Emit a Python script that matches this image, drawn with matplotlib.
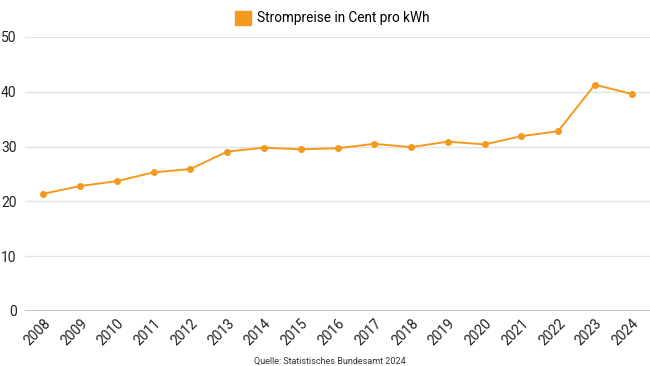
import matplotlib.pyplot as plt
from matplotlib.patches import Patch

# Strompreise Deutschland, Cent pro kWh
years = ['2008', '2009', '2010', '2011', '2012', '2013', '2014', '2015', '2016',
         '2017', '2018', '2019', '2020', '2021', '2022', '2023', '2024']
prices = [21.4, 22.8, 23.7, 25.3, 25.9, 29.1, 29.8, 29.5, 29.7,
          30.5, 29.9, 30.9, 30.4, 31.9, 32.8, 41.3, 39.6]
y_ticks = [0, 10, 20, 30, 40, 50]

orange = '#F39A1E'

plt.rcParams['font.family'] = ['Roboto', 'DejaVu Sans']

fig = plt.figure(figsize=(6.5, 3.66), dpi=100)
ax = fig.add_axes([25 / 650, 55 / 366, 1 - 25 / 650, 274 / 366])

x = list(range(len(years)))
ax.plot(x, prices, color=orange, linewidth=1.4, marker='o', markersize=4,
        markerfacecolor=orange, markeredgecolor=orange, zorder=3)

ax.set_xlim(-0.5, len(years) - 0.5)
ax.set_ylim(0, 50)
ax.set_yticks(y_ticks)
ax.set_xticks(x)
ax.set_xticklabels(years, rotation=45, ha='right', rotation_mode='anchor',
                   fontsize=10, color='#222222')
ax.tick_params(axis='y', labelsize=10, labelcolor='#222222', length=0, pad=6)
ax.tick_params(axis='x', length=0, pad=4)

for v in y_ticks:
    if v == 0:
        ax.axhline(v, color='#b8b8b8', linewidth=1.2, zorder=1)
    else:
        ax.axhline(v, color='#e3e3e3', linewidth=1.0, zorder=1)

for s in ax.spines.values():
    s.set_visible(False)

handle = Patch(facecolor=orange, edgecolor=orange)
fig.legend([handle], ['Strompreise in Cent pro kWh'], loc='center',
           bbox_to_anchor=(0.511, 1 - 18 / 366), frameon=False, fontsize=9.8,
           handlelength=1.2, handleheight=1.2, handletextpad=0.4)

fig.text(0.508, 1 - 361 / 366, 'Quelle: Statistisches Bundesamt 2024',
         ha='center', va='center', fontsize=6.5, color='#333333')

fig.savefig('out.png', dpi=100)
